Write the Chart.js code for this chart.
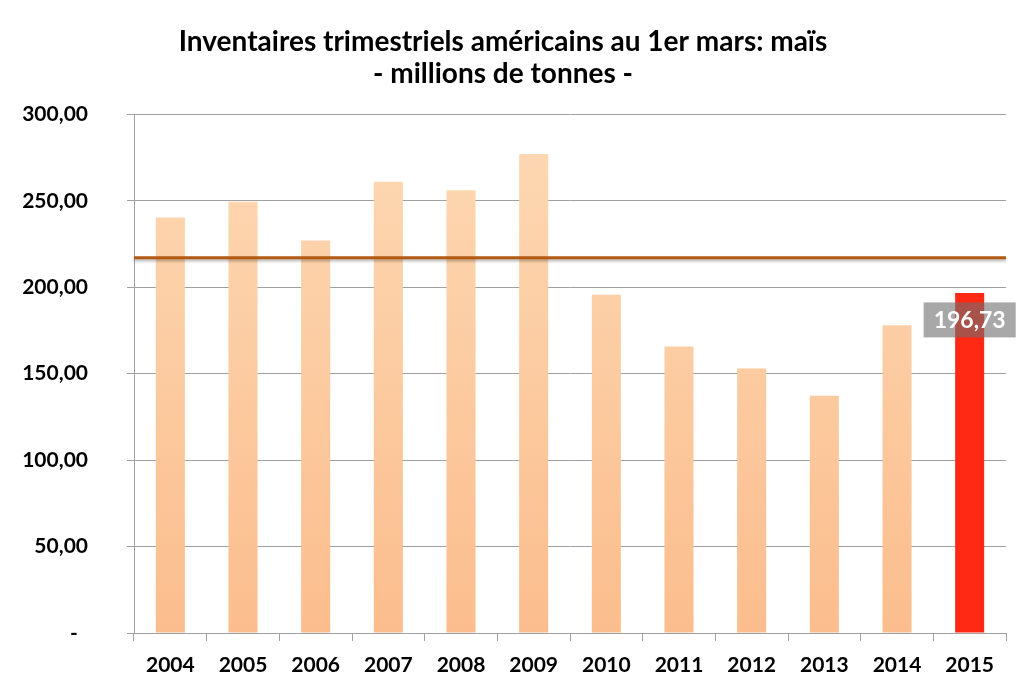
<!DOCTYPE html>
<html>
<head>
<meta charset="utf-8">
<script src="https://cdn.jsdelivr.net/npm/chart.js@4"></script>
<style>
    html, body { margin: 0; padding: 0; background: #fff; }
    #wrap { width: 1024px; height: 690px; }
</style>
</head>
<body>
<div id="wrap"><canvas id="chart"></canvas></div>
<script>
const years = ['2004', '2005', '2006', '2007', '2008', '2009', '2010', '2011', '2012', '2013', '2014', '2015']
const stocks = [240.3, 249.5, 227.1, 261.1, 256.1, 277.1, 195.7, 165.7, 153.0, 137.3, 178.0, 196.73]
const averageLine = 217.1
const highlightYear = '2015'
const titleLines = ['Inventaires trimestriels américains au 1er mars: maïs', '- millions de tonnes -']

const fontName = 'Lato, "Open Sans", sans-serif'

// tick label like the Excel format: 300,00 and "-" for zero
function formatTick(v) {
    if (v === 0) return '-\u00a0\u00a0'
    return v.toFixed(2).replace('.', ',')
}

function barColor(context) {
    const chart = context.chart
    const area = chart.chartArea
    if (years[context.dataIndex] === highlightYear) return '#ff2914'
    if (!area) return '#fcc9a0'
    const g = chart.ctx.createLinearGradient(0, area.top, 0, area.bottom)
    g.addColorStop(0, '#fdd9b4')
    g.addColorStop(1, '#fbbd8d')
    return g
}

// horizontal average line across the plot
const averagePlugin = {
    id: 'averagePlugin',
    afterDatasetsDraw(chart) {
        const { ctx, chartArea, scales } = chart
        const y = scales.y.getPixelForValue(averageLine)
        ctx.save()
        ctx.shadowColor = 'rgba(0,0,0,0.3)'
        ctx.shadowBlur = 3
        ctx.shadowOffsetY = 2
        ctx.strokeStyle = '#b35a12'
        ctx.lineWidth = 3
        ctx.beginPath()
        ctx.moveTo(chartArea.left, y)
        ctx.lineTo(chartArea.right, y)
        ctx.stroke()
        ctx.restore()
    }
}

// grey label box on the highlighted bar
const valueLabelPlugin = {
    id: 'valueLabelPlugin',
    afterDraw(chart) {
        const { ctx } = chart
        const i = years.indexOf(highlightYear)
        const bar = chart.getDatasetMeta(0).data[i]
        if (!bar) return
        const text = stocks[i].toFixed(2).replace('.', ',')
        ctx.save()
        ctx.font = 'bold 23px ' + fontName
        const w = ctx.measureText(text).width + 20
        const h = 35
        const cy = bar.y + 27
        ctx.fillStyle = 'rgba(110,110,110,0.6)'
        ctx.fillRect(bar.x - w / 2, cy - h / 2, w, h)
        ctx.fillStyle = '#fff'
        ctx.textAlign = 'center'
        ctx.textBaseline = 'middle'
        ctx.fillText(text, bar.x, cy + 1)
        ctx.restore()
    }
}

const ctx = document.getElementById('chart').getContext('2d')
new Chart(ctx, {
    type: 'bar',
    data: {
        labels: years,
        datasets: [{
            label: 'Inventaires',
            data: stocks,
            backgroundColor: barColor,
            borderWidth: 0,
            categoryPercentage: 1,
            barPercentage: 0.4
        }]
    },
    options: {
        responsive: true,
        maintainAspectRatio: false,
        animation: false,
        layout: { padding: { left: 0, right: 18, top: 0, bottom: 0 } },
        plugins: {
            legend: { display: false },
            tooltip: { enabled: false },
            title: {
                display: true,
                text: titleLines,
                color: '#000',
                font: { family: fontName, size: 28, weight: 'bold', lineHeight: 1.15 },
                padding: { top: 26, bottom: 24 }
            }
        },
        scales: {
            x: {
                afterFit(scale) { scale.height = 57 },
                grid: { display: true, drawOnChartArea: false, drawTicks: true, tickLength: 8, color: '#a0a0a0', offset: true },
                border: { color: '#a0a0a0', width: 1 },
                ticks: { color: '#000', font: { family: fontName, size: 21, weight: 'bold' }, padding: 12, maxRotation: 0 }
            },
            y: {
                min: 0,
                max: 300,
                afterFit(scale) { scale.width = 134 },
                grid: { color: '#a0a0a0', tickLength: 7 },
                border: { color: '#a0a0a0', width: 1 },
                ticks: {
                    stepSize: 50,
                    color: '#000',
                    padding: 39,
                    font: { family: fontName, size: 21, weight: 'bold' },
                    callback: (v) => formatTick(v)
                }
            }
        }
    },
    plugins: [averagePlugin, valueLabelPlugin]
})
</script>
</body>
</html>
